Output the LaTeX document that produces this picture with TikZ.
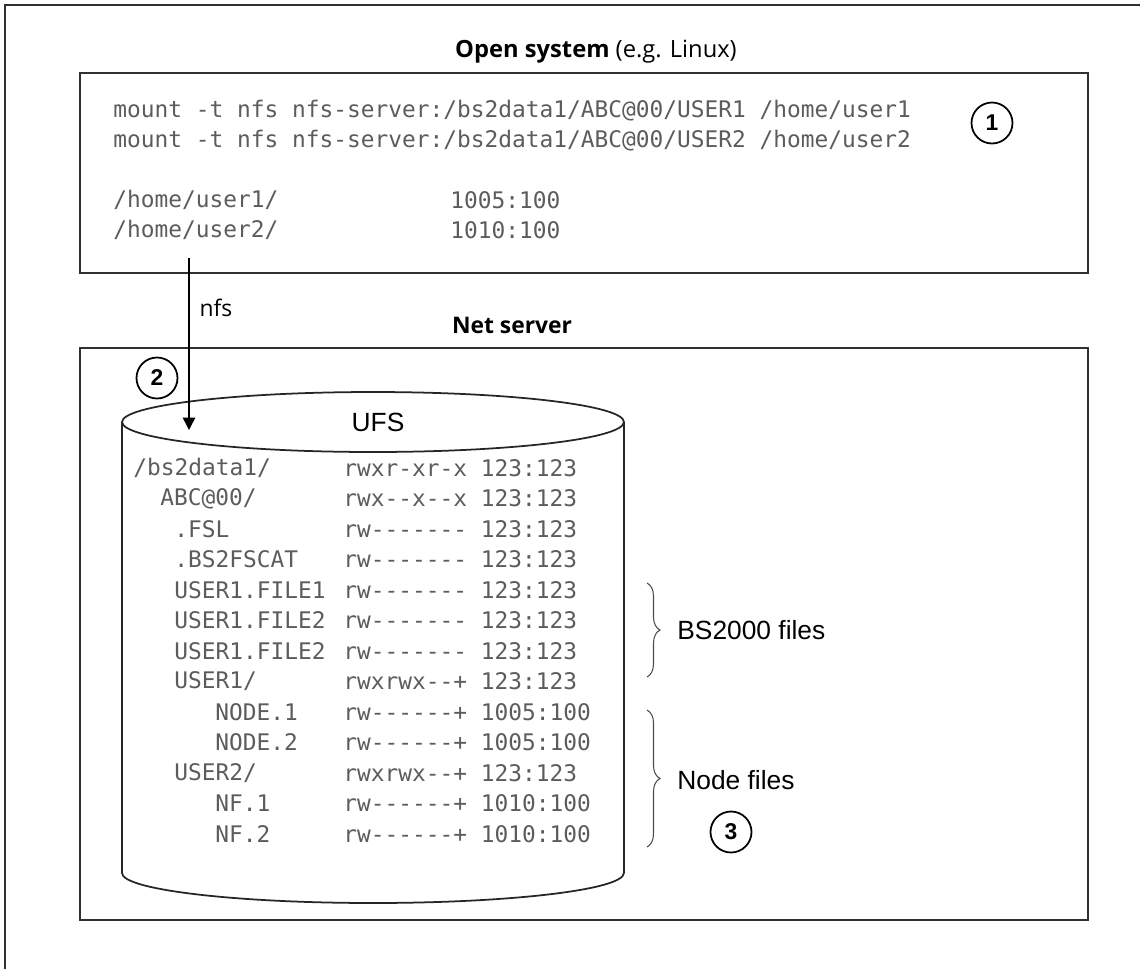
\documentclass[tikz,border=0pt]{standalone}
\usepackage{fontspec}
\setmainfont{Liberation Sans}
\setmonofont{DejaVu Sans Mono}
\newfontfamily\opensans{Open Sans}
\usetikzlibrary{arrows.meta,decorations.pathreplacing}
\definecolor{codegray}{HTML}{5C5C5C}
\definecolor{framegray}{HTML}{303030}

\begin{document}
\begin{tikzpicture}[x=0.02cm,y=-0.02cm,
	box/.style={draw=framegray,line width=1.3pt},
	cyl/.style={draw=black!85,line width=1pt},
	code/.style={anchor=west,inner sep=0pt,text=codegray,font=\ttfamily\fontsize{13}{15}\selectfont},
	headtext/.style={inner sep=0pt,font=\opensans\fontsize{13}{15}\selectfont},
	sidetext/.style={anchor=west,inner sep=0pt,font=\fontsize{15}{17}\selectfont},
	numcircle/.style={draw,circle,line width=1pt,minimum size=0.82cm,inner sep=0pt,font=\bfseries\fontsize{13}{15}\selectfont},
	filebrace/.style={draw=black!70,line width=0.6pt,decorate,decoration={brace,amplitude=0.26cm}}]
	
	\clip (0,0) rectangle (1140,968);
	\draw[box] (5,5) rectangle (1170,1000);
	
	\node[headtext,font=\opensans\fontsize{13.5}{15}\selectfont] (opensys) at (596,52) {\textbf{Open system} (e.g. Linux)};
	\draw[box] (80,73) rectangle (1088,273);
	\node[code] (mount1) at (113,111) {mount -t nfs nfs-server:/bs2data1/ABC@00/USER1 /home/user1};
	\node[code] (mount2) at (113,141) {mount -t nfs nfs-server:/bs2data1/ABC@00/USER2 /home/user2};
	\node[code] (home1) at (113,200) {/home/user1/};
	\node[code] (home2) at (113,230) {/home/user2/};
	\node[code] (id1) at (450,200) {1005:100};
	\node[code] (id2) at (450,230) {1010:100};
	\node[numcircle] (one) at (992,123) {1};
	
	\node[headtext] (nfs) at (216,308) {nfs};
	\node[headtext] (netsrv) at (512,325) {\textbf{Net server}};
	\draw[box] (80,348) rectangle (1088,920);
	\node[numcircle] (two) at (157,378) {2};
	
	\draw[cyl] (373,422) ellipse [x radius=5.02cm,y radius=0.6cm];
	\draw[cyl] (122,422) -- (122,873) arc[start angle=180,end angle=360,x radius=5.02cm,y radius=0.6cm] -- (624,422);
	\node[sidetext,anchor=center] (ufs) at (378,422) {UFS};
	
	\coordinate (nfsfrom) at (189,258);
	\coordinate (nfsto) at (189,430);
	\draw[line width=0.8pt,-{Triangle[width=7pt,length=7pt]}] (nfsfrom) -- (nfsto);
	
	\node[code] (n1) at (133,468) {/bs2data1/};
	\node[code] (n2) at (160,498.5) {ABC@00/};
	\node[code] (n3) at (174,529) {.FSL};
	\node[code] (n4) at (174,559.5) {.BS2FSCAT};
	\node[code] (n5) at (174,590) {USER1.FILE1};
	\node[code] (n6) at (174,620.5) {USER1.FILE2};
	\node[code] (n7) at (174,651) {USER1.FILE2};
	\node[code] (n8) at (174,681.5) {USER1/};
	\node[code] (n9) at (215,712) {NODE.1};
	\node[code] (n10) at (215,742.5) {NODE.2};
	\node[code] (n11) at (174,773) {USER2/};
	\node[code] (n12) at (215,803.5) {NF.1};
	\node[code] (n13) at (215,834) {NF.2};
	
	\node[code] (r1) at (343,468) {rwxr-xr-x 123:123};
	\node[code] (r2) at (343,498.5) {rwx--x--x 123:123};
	\node[code] (r3) at (343,529) {rw------- 123:123};
	\node[code] (r4) at (343,559.5) {rw------- 123:123};
	\node[code] (r5) at (343,590) {rw------- 123:123};
	\node[code] (r6) at (343,620.5) {rw------- 123:123};
	\node[code] (r7) at (343,651) {rw------- 123:123};
	\node[code] (r8) at (343,681.5) {rwxrwx--+ 123:123};
	\node[code] (r9) at (343,712) {rw------+ 1005:100};
	\node[code] (r10) at (343,742.5) {rw------+ 1005:100};
	\node[code] (r11) at (343,773) {rwxrwx--+ 123:123};
	\node[code] (r12) at (343,803.5) {rw------+ 1010:100};
	\node[code] (r13) at (343,834) {rw------+ 1010:100};
	
	\coordinate (bstop) at (647,583);
	\coordinate (bsbot) at (647,677);
	\coordinate (nodetop) at (647,710);
	\coordinate (nodebot) at (647,847);
	\draw[filebrace] (bstop) -- (bsbot);
	\draw[filebrace] (nodetop) -- (nodebot);
	\node[sidetext] (bsfiles) at (677,630) {BS2000 files};
	\node[sidetext] (nodefiles) at (677,780) {Node files};
	\node[numcircle] (three) at (731,832) {3};
\end{tikzpicture}
\end{document}
